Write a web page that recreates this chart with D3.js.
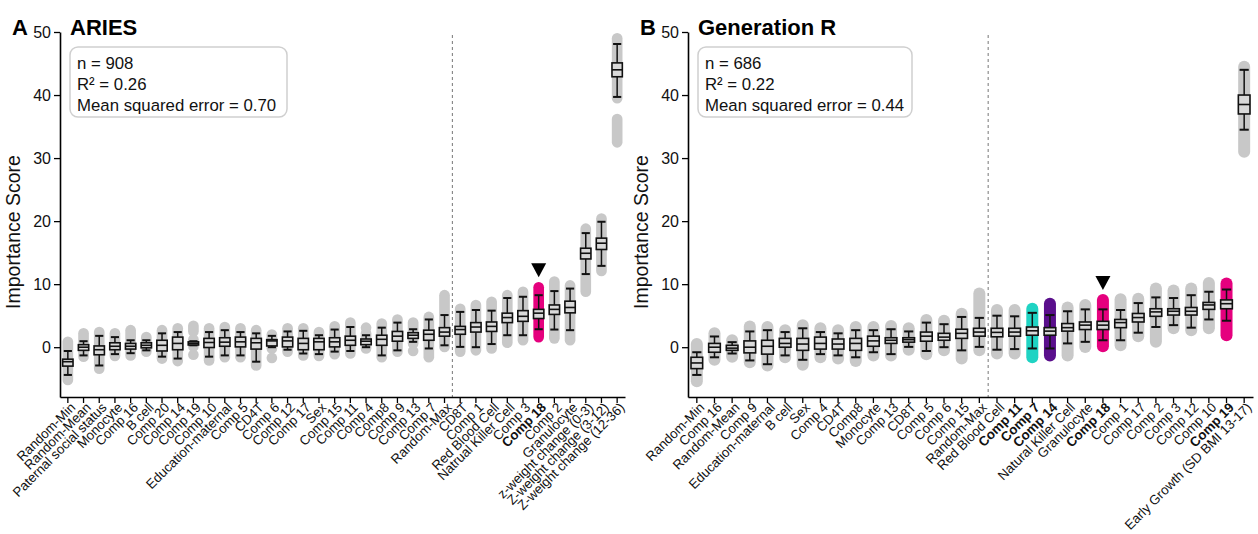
<!DOCTYPE html>
<html>
<head>
<meta charset="utf-8">
<script src="https://cdn.jsdelivr.net/npm/d3@7"></script>
<style>
  body { margin: 0; background: #fff; }
  svg { font-family: "Liberation Sans", Arial, sans-serif; }
</style>
</head>
<body>
<div id="chart"></div>
<script>
// ---- data: panel A (ARIES) ----
var labelsA = ["Random-Min", "Random-Mean", "Paternal social status", "Monocyte", "Comp 16", "B cell",
  "Comp 20", "Comp 14", "Comp 19", "Comp 10", "Education-maternal", "Comp 5", "CD4T", "Comp 6",
  "Comp 12", "Comp 17", "Sex", "Comp 15", "Comp 11", "Comp 4", "Comp8", "Comp 9", "Comp 13",
  "Comp 7", "Random-Max", "CD8T", "Comp 1", "Red Blood Cell", "Natrual Killer Cell", "Comp 3",
  "Comp 18", "Comp 2", "Granulocyte", "z-weight change (0-3)", "Z-weight change (3-12)",
  "Z-weight change (12-36)"];
var whiskLoA = [-4.4, -1.3, -2.9, -1.1, -0.95, -0.5, -1.5, -1.8, 0.3, -1.5, -1.3, -1.3, -2.3, 0, -0.4, -1.0, -1.1, -0.7, -0.6, 0, -1.3, -0.5, 0.85, -0.2, 0.3, 0.05, 0, 0.5, 1.9, 1.9, 2.85, 2.8, 2.7, 11.6, 12.9, 39.7];
var q1A = [-3.0, -0.5, -1.2, -0.4, -0.3, -0.1, -0.6, -0.4, 0.35, -0.05, 0.15, 0.05, -0.3, 0.2, 0.05, -0.4, -0.4, 0.05, 0.3, 0.4, 0.3, 0.95, 1.4, 1.1, 1.75, 2.05, 2.4, 2.5, 3.9, 4.1, 4.55, 5.2, 5.45, 14.0, 15.5, 42.9];
var medA = [-2.3, 0, -0.4, 0.15, 0.15, 0.3, 0.3, 0.6, 0.6, 0.75, 0.8, 0.85, 0.7, 1.0, 1.0, 0.6, 0.85, 0.85, 1.1, 0.95, 1.25, 1.75, 1.9, 2.05, 2.4, 2.8, 3.2, 3.3, 4.7, 4.9, 5.4, 6.0, 6.3, 14.9, 16.5, 44.0];
var q3A = [-1.9, 0.4, 0.2, 0.7, 0.6, 0.7, 1.1, 1.6, 0.85, 1.4, 1.5, 1.6, 1.4, 1.2, 1.6, 1.4, 1.4, 1.5, 1.75, 1.3, 1.9, 2.5, 2.3, 2.7, 3.1, 3.3, 3.9, 4.0, 5.4, 5.8, 6.0, 6.7, 7.3, 15.7, 17.3, 45.1];
var whiskHiA = [-0.6, 0.95, 1.8, 1.6, 1.1, 1.1, 2.2, 2.4, 0.95, 2.4, 2.7, 2.4, 2.2, 1.8, 2.5, 2.6, 1.9, 2.8, 3.2, 1.9, 3.1, 3.9, 2.85, 4.4, 5.1, 5.6, 5.9, 5.8, 7.8, 8.0, 8.25, 8.9, 9.3, 18.1, 19.9, 48.1];
var dotLoA = [-5.2, -1.5, -3.4, -1.4, -1.3, -0.7, -1.8, -2.2, 0.1, -2.1, -1.6, -1.6, -2.9, -0.2, -0.7, -1.3, -1.4, -1.1, -1.0, -0.2, -1.6, -0.7, 0.6, -1.6, 0.05, -0.7, -0.5, -0.2, 0.7, 1.1, 1.6, 1.4, 1.1, 8.8, 12.1, 39.5];
var dotHiA = [0.85, 2.2, 2.4, 2.2, 2.7, 1.6, 2.7, 3.0, 1.2, 3.0, 3.2, 3.0, 2.7, 2.0, 3.0, 3.0, 2.4, 3.3, 3.9, 2.2, 3.75, 4.4, 3.9, 4.8, 8.25, 6.1, 6.7, 7.2, 8.25, 8.8, 9.5, 10.4, 9.8, 18.8, 20.4, 49.0];
// separate groups of points: [label, low, high]
var extraDotsA = [["Comp 19", 2.5, 3.4], ["Comp 19", -1.2, -1.2], ["Comp 6", -1.7, -1.7],
  ["Comp 4", 3.1, 3.1], ["Comp 13", -0.6, -0.6], ["Z-weight change (12-36)", 32.5, 36.2]];
var statsA = ["n = 908", "R\u00b2 = 0.26", "Mean squared error = 0.70"];
var boldA = ["Comp 18"];
var markA = "Comp 18";
var splitA = "Random-Max";

// ---- data: panel B (Generation R) ----
var labelsB = ["Random-Min", "Comp 16", "Random-Mean", "Comp 9", "Education-maternal", "B cell", "Sex",
  "Comp 4", "CD4T", "Comp8", "Monocyte", "Comp 13", "CD8T", "Comp 5", "Comp 6", "Comp 15",
  "Random-Max", "Red Blood Cell", "Comp 11", "Comp 7", "Comp 14", "Natural Killer Cell",
  "Granulocyte", "Comp 18", "Comp 1", "Comp 17", "Comp 2", "Comp 3", "Comp 12", "Comp 10",
  "Comp 19", "Early Growth (SD BMI 13-17)"];
var whiskLoB = [-4.4, -1.6, -1.0, -2.1, -2.7, -1.3, -2.0, -1.1, -1.3, -1.6, -0.8, -1.1, 0.05, -0.6, 0, -0.5, 0.05, -0.4, -0.3, -0.2, -0.2, 0.6, 0.85, 1.1, 1.1, 2.3, 3.2, 3.5, 3.1, 4.4, 4.2, 34.5];
var q1B = [-3.4, -0.8, -0.5, -0.9, -1.1, 0, -0.5, -0.3, -0.3, -0.5, 0.15, 0.6, 0.8, 0.95, 1.1, 1.4, 1.75, 1.65, 1.75, 1.9, 1.9, 2.55, 2.8, 2.8, 3.1, 4.0, 4.9, 5.1, 5.1, 6.0, 6.1, 37.0];
var medB = [-2.5, 0, -0.15, 0, 0.15, 0.6, 0.5, 0.6, 0.5, 0.6, 1.0, 1.1, 1.2, 1.75, 1.6, 2.2, 2.4, 2.35, 2.4, 2.6, 2.55, 3.1, 3.5, 3.5, 3.9, 4.7, 5.6, 5.7, 5.7, 6.7, 6.9, 38.5];
var q3B = [-1.6, 0.6, 0.3, 1.0, 1.1, 1.4, 1.4, 1.6, 1.3, 1.4, 1.75, 1.5, 1.5, 2.4, 2.2, 2.85, 3.0, 3.0, 3.0, 3.2, 3.1, 3.75, 4.0, 4.1, 4.4, 5.35, 6.1, 6.1, 6.3, 7.1, 7.5, 40.0];
var whiskHiB = [-0.8, 1.7, 0.8, 2.5, 2.7, 2.4, 3.0, 2.4, 2.2, 2.7, 2.7, 2.85, 2.5, 3.9, 3.65, 4.8, 4.65, 5.0, 4.9, 5.45, 5.1, 5.7, 6.0, 6.0, 5.9, 7.0, 7.9, 7.8, 8.25, 8.8, 9.15, 44.0];
var dotLoB = [-5.4, -2.0, -1.5, -2.4, -2.9, -1.6, -2.8, -1.6, -1.8, -2.2, -1.3, -1.3, -0.4, -1.1, -0.5, -1.8, -0.5, -1.0, -1.0, -1.6, -1.3, -1.3, 0.05, 0.15, 0.3, 1.75, 0.85, 3.0, 2.7, 3.0, 1.9, 31.0];
var dotHiB = [0.5, 2.2, 1.1, 3.3, 3.2, 2.7, 3.5, 3.0, 2.7, 3.2, 3.2, 3.35, 3.0, 4.3, 4.2, 5.3, 8.5, 5.9, 5.9, 6.1, 6.9, 6.3, 6.7, 7.5, 7.6, 7.7, 9.3, 9.0, 9.3, 10.2, 10.1, 44.5];
var extraDotsB = [];
var statsB = ["n = 686", "R\u00b2 = 0.22", "Mean squared error = 0.44"];
var boldB = ["Comp 11", "Comp 7", "Comp 14", "Comp 18", "Comp 19"];
var markB = "Comp 18";
var splitB = "Random-Max";

var yTicks = [0, 10, 20, 30, 40, 50];

// highlight colours for the coloured point clouds
var colorsA = { "Comp 18": "#e5007e" };
var colorsB = { "Comp 7": "#1fd3c3", "Comp 14": "#5a0f8c", "Comp 18": "#e5007e", "Comp 19": "#e5007e" };

var W = 1258, H = 534;
var svg = d3.select("#chart").append("svg")
  .attr("width", W).attr("height", H);

function panel(opt) {
  var g = svg.append("g");

  var x = d3.scaleBand().domain(opt.labels).range([opt.x0, opt.x1]).paddingInner(0).paddingOuter(0);
  var y = d3.scaleLinear().domain([-7.9, 50]).range([397, 32]);
  var bw = x.bandwidth();
  var cx = function (lab) { return x(lab) + bw / 2; };

  // dashed separator
  var sx = x(opt.split) + bw;
  g.append("line")
    .attr("x1", sx).attr("x2", sx).attr("y1", 35).attr("y2", 397)
    .attr("stroke", "#777").attr("stroke-width", 1).attr("stroke-dasharray", "3,3");

  // point clouds
  var rows = opt.labels.map(function (lab, i) {
    return { lab: lab, lo: opt.wLo[i], q1: opt.q1[i], med: opt.med[i], q3: opt.q3[i], hi: opt.wHi[i],
      dLo: opt.dLo[i], dHi: opt.dHi[i] };
  });
  var stripW = bw * 0.68;
  g.selectAll(".strip").data(rows).enter().append("line")
    .attr("x1", function (d) { return cx(d.lab); })
    .attr("x2", function (d) { return cx(d.lab); })
    .attr("y1", function (d) { return y(d.dHi); })
    .attr("y2", function (d) { return y(d.dLo); })
    .attr("stroke", function (d) { return opt.colors[d.lab] || "#c8c8c8"; })
    .attr("stroke-width", stripW)
    .attr("stroke-linecap", "round");
  g.selectAll(".extra").data(opt.extra).enter().append("line")
    .attr("x1", function (d) { return cx(d[0]); })
    .attr("x2", function (d) { return cx(d[0]); })
    .attr("y1", function (d) { return y(d[2]); })
    .attr("y2", function (d) { return y(d[1]) + 0.01; })
    .attr("stroke", function (d) { return opt.colors[d[0]] || "#c8c8c8"; })
    .attr("stroke-width", stripW)
    .attr("stroke-linecap", "round");

  // box plots
  var boxW = bw * 0.66, capW = bw * 0.52;
  var b = g.selectAll(".box").data(rows).enter().append("g");
  b.append("line")
    .attr("x1", function (d) { return cx(d.lab); }).attr("x2", function (d) { return cx(d.lab); })
    .attr("y1", function (d) { return y(d.hi); }).attr("y2", function (d) { return y(d.lo); })
    .attr("stroke", "#111").attr("stroke-width", 1.5);
  ["hi", "lo"].forEach(function (k) {
    b.append("line")
      .attr("x1", function (d) { return cx(d.lab) - capW / 2; })
      .attr("x2", function (d) { return cx(d.lab) + capW / 2; })
      .attr("y1", function (d) { return y(d[k]); }).attr("y2", function (d) { return y(d[k]); })
      .attr("stroke", "#111").attr("stroke-width", 2);
  });
  b.append("rect")
    .attr("x", function (d) { return cx(d.lab) - boxW / 2; })
    .attr("width", boxW)
    .attr("y", function (d) { return y(d.q3); })
    .attr("height", function (d) { return Math.max(1, y(d.q1) - y(d.q3)); })
    .attr("fill", "#d9d9d9").attr("stroke", "#111").attr("stroke-width", 1.6);
  b.append("line")
    .attr("x1", function (d) { return cx(d.lab) - boxW / 2; })
    .attr("x2", function (d) { return cx(d.lab) + boxW / 2; })
    .attr("y1", function (d) { return y(d.med); }).attr("y2", function (d) { return y(d.med); })
    .attr("stroke", "#111").attr("stroke-width", 1.6);

  // marker triangle
  var mi = opt.labels.indexOf(opt.mark);
  var mx = cx(opt.mark), my = y(opt.dHi[mi]) - 10;
  g.append("path")
    .attr("d", "M" + (mx - 7.5) + "," + (my - 14) + "L" + (mx + 7.5) + "," + (my - 14) + "L" + mx + "," + my + "Z")
    .attr("fill", "#000");

  // axes
  var yAxis = d3.axisLeft(y).tickValues(yTicks).tickSize(6).tickSizeOuter(0).tickPadding(3);
  var ya = g.append("g").attr("transform", "translate(" + opt.x0 + ",0)").call(yAxis);
  ya.select(".domain").attr("stroke-width", 1.6);
  ya.selectAll(".tick line").attr("stroke-width", 1.3);
  ya.selectAll("text").attr("font-size", 16).attr("fill", "#111");

  var xAxis = d3.axisBottom(x).tickSize(6).tickSizeOuter(0);
  var xa = g.append("g").attr("transform", "translate(0,397)").call(xAxis);
  xa.select(".domain").attr("stroke-width", 1.6);
  xa.selectAll(".tick line").attr("stroke-width", 1.3);
  xa.selectAll("text")
    .attr("x", 0).attr("y", 0).attr("dy", "0.35em")
    .attr("text-anchor", "end")
    .attr("transform", "translate(5,8) rotate(-45)")
    .attr("font-size", 13.3).attr("fill", "#111")
    .attr("font-weight", function (d) { return opt.bold.indexOf(d) >= 0 ? "bold" : "normal"; });

  // y label
  g.append("text")
    .attr("transform", "translate(" + (opt.x0 - 40) + ",232) rotate(-90)")
    .attr("text-anchor", "middle").attr("font-size", 19.5).attr("fill", "#111")
    .text("Importance Score");

  // titles
  g.append("text").attr("x", opt.x0 - 48).attr("y", 35)
    .attr("font-size", 22).attr("font-weight", "bold").text(opt.letter);
  g.append("text").attr("x", opt.x0 + 10).attr("y", 35)
    .attr("font-size", 22).attr("font-weight", "bold").text(opt.title);

  // stats box
  g.append("rect")
    .attr("x", opt.x0 + 10).attr("y", 47).attr("width", opt.boxW).attr("height", 70)
    .attr("rx", 8).attr("fill", "#fff").attr("stroke", "#cfcfcf").attr("stroke-width", 1.5);
  g.selectAll(".stat").data(opt.stats).enter().append("text")
    .attr("x", opt.x0 + 17)
    .attr("y", function (d, i) { return 69 + i * 21; })
    .attr("font-size", 16.8).attr("fill", "#111")
    .text(function (d) { return d; });
}

panel({ labels: labelsA, wLo: whiskLoA, q1: q1A, med: medA, q3: q3A, wHi: whiskHiA,
  dLo: dotLoA, dHi: dotHiA, extra: extraDotsA, colors: colorsA, bold: boldA, mark: markA,
  split: splitA, stats: statsA, title: "ARIES", letter: "A", x0: 60, x1: 625, boxW: 217 });

panel({ labels: labelsB, wLo: whiskLoB, q1: q1B, med: medB, q3: q3B, wHi: whiskHiB,
  dLo: dotLoB, dHi: dotHiB, extra: extraDotsB, colors: colorsB, bold: boldB, mark: markB,
  split: splitB, stats: statsB, title: "Generation R", letter: "B", x0: 688, x1: 1253, boxW: 214 });
</script>
</body>
</html>
